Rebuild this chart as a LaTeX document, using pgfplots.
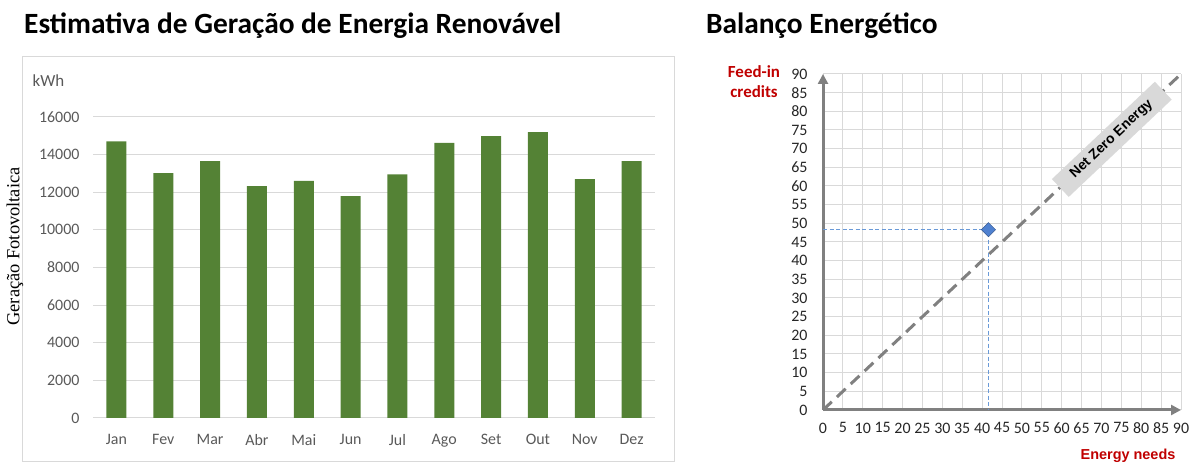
\documentclass[border=0pt]{standalone}
\usepackage{fontspec}
\setmainfont{Carlito}
\newfontfamily\arialf{Liberation Sans}
\newfontfamily\timesf{Liberation Serif}
\usepackage{pgfplots}
\pgfplotsset{compat=1.18}
\usetikzlibrary{arrows.meta}
\definecolor{bargreen}{HTML}{548235}
\definecolor{gridgray}{HTML}{D9D9D9}
\definecolor{labelgray}{HTML}{595959}
\definecolor{axgray}{HTML}{808080}
\definecolor{darkred}{HTML}{C00000}
\definecolor{ptblue}{HTML}{4F81D0}
\definecolor{lnblue}{HTML}{6A9AD8}
\begin{document}
\begin{tikzpicture}[x=1bp,y=1bp]
\path[use as bounding box] (0,0) rectangle (1190,463);
% titles
\node[anchor=base west, inner sep=0, font=\bfseries\fontsize{29.5}{29.5}\selectfont] at (24,429.7) {Estimativa de Geração de Energia Renovável};
\node[anchor=base west, inner sep=0, font=\bfseries\fontsize{29.5}{29.5}\selectfont] at (706,429.7) {Balanço Energético};
% left frame
\draw[gridgray, line width=1bp] (22.5,1) rectangle (674.5,406.5);
\node[font=\fontsize{17}{17}\selectfont, text=labelgray] at (48.5,382) {kWh};
\node[rotate=90, font=\timesf\fontsize{18.5}{18.5}\selectfont] at (15,216.5) {Geração Fotovoltaica};

\begin{axis}[at={(93bp,45bp)}, anchor=south west, width=562bp, height=301bp, scale only axis,
  xmin=-0.5, xmax=11.5, ymin=0, ymax=16000,
  ytick={0,2000,...,16000}, xtick={0,...,11},
  xticklabels={Jan,Fev,Mar,Abr,Mai,Jun,Jul,Ago,Set,Out,Nov,Dez},
  ymajorgrids, grid style={draw=gridgray, line width=1bp},
  axis line style={draw=none}, major tick length=0pt,
  tick label style={font=\fontsize{16}{16}\selectfont, text=labelgray},
  yticklabel style={xshift=-10bp}, xticklabel style={yshift=-13bp},
  scaled y ticks=false,
  /pgf/number format/assume math mode=true, /pgf/number format/1000 sep={}]
\addplot[ybar, bar width=20bp, fill=bargreen, draw=none] coordinates {
(0,14700) (1,13020) (2,13650) (3,12330) (4,12600) (5,11800)
(6,12950) (7,14620) (8,14980) (9,15190) (10,12700) (11,13660)};
\end{axis}

% right chart
\begin{axis}[at={(823bp,53bp)}, anchor=south west, width=358bp, height=336bp, scale only axis,
  xmin=0, xmax=90, ymin=0, ymax=90,
  xtick={0,5,...,90}, ytick={0,5,...,90},
  grid=major, grid style={draw=gridgray, line width=1bp},
  axis lines=left, axis line style={draw=axgray, line width=3bp, -{Triangle[length=10bp,width=10bp]}},
  major tick length=0pt,
  tick label style={font=\fontsize{16}{16}\selectfont, text=black!85},
  yticklabel style={xshift=-12bp}, xticklabel style={yshift=-12bp, inner sep=0.5bp},
  /pgf/number format/assume math mode=true, clip=false]
\addplot[axgray, line width=3bp, dash pattern=on 12bp off 7bp] coordinates {(0,0) (90,90)};
\addplot[lnblue, line width=0.8bp, dash pattern=on 4bp off 2.5bp] coordinates {(0,48.3) (41.6,48.3) (41.6,0)};
\addplot[only marks, mark=square*, mark size=5bp, mark options={rotate=45, fill=ptblue, draw=ptblue!70!black, line width=0.5bp}] coordinates {(41.6,48.3)};
\node[rotate=43.4, fill=gridgray, inner xsep=17bp, inner ysep=6bp, font=\arialf\bfseries\fontsize{14}{14}\selectfont] at (axis cs:72.6,72.5) {Net Zero Energy};
\end{axis}
\node[align=center, text=darkred, font=\bfseries\fontsize{17}{20}\selectfont] at (754,381) {Feed-in\\credits};
\node[text=darkred, font=\arialf\bfseries\fontsize{14.5}{14.5}\selectfont] at (1128,7) {Energy needs};
\end{tikzpicture}
\end{document}
